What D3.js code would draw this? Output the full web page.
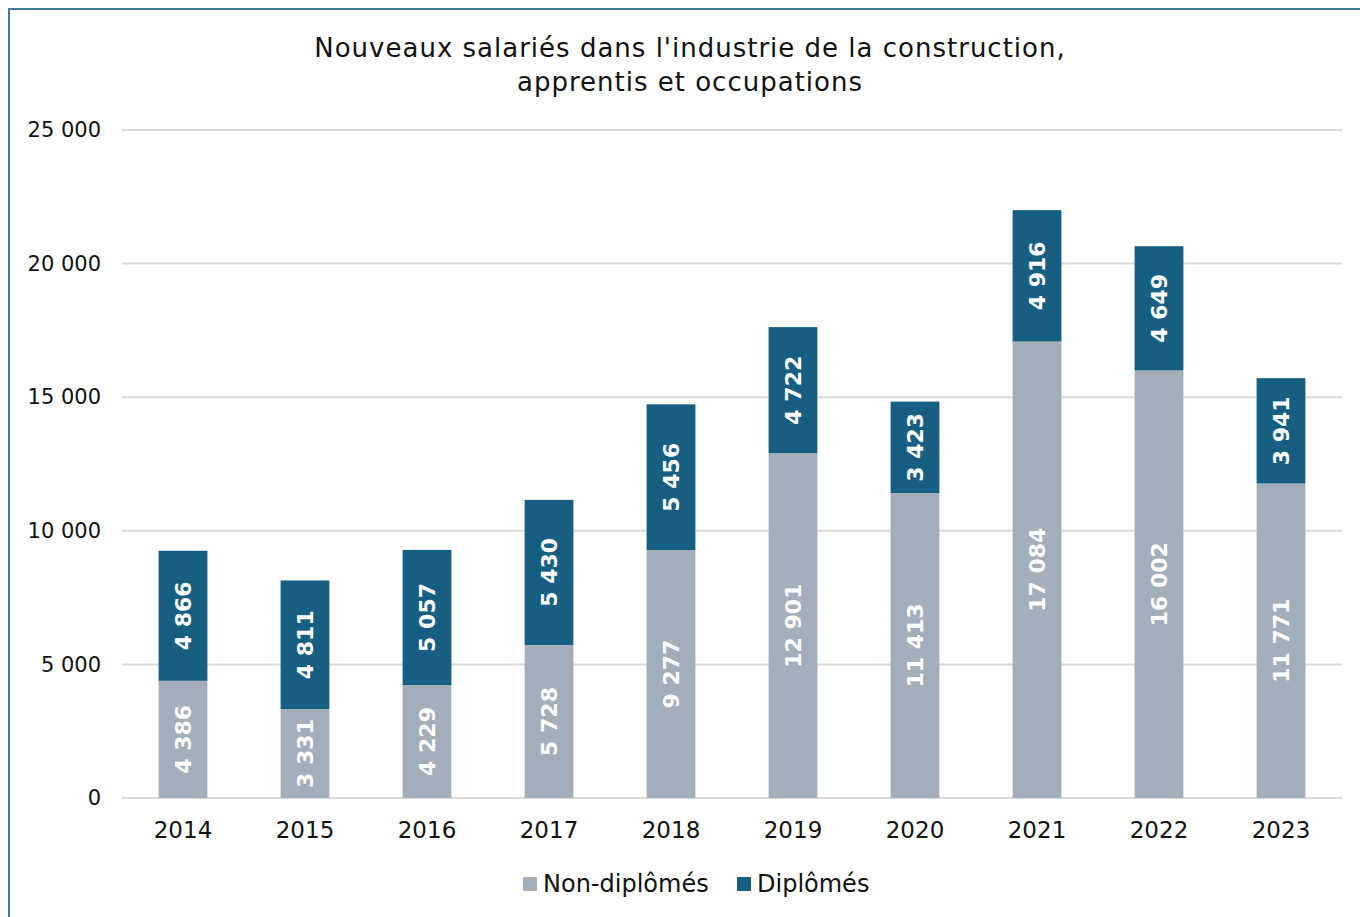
<!DOCTYPE html>
<html>
<head>
<meta charset="utf-8">
<script src="https://cdn.jsdelivr.net/npm/d3@7"></script>
<style>
  body { margin: 0; background: #fff; }
  text { font-family: "DejaVu Sans", Verdana, sans-serif; }
</style>
</head>
<body>
<div id="chart"></div>
<script>
// Data
var years = ["2014", "2015", "2016", "2017", "2018", "2019", "2020", "2021", "2022", "2023"];
var nonDiplomes = [4386, 3331, 4229, 5728, 9277, 12901, 11413, 17084, 16002, 11771];
var diplomes = [4866, 4811, 5057, 5430, 5456, 4722, 3423, 4916, 4649, 3941];
var yTicks = [0, 5000, 10000, 15000, 20000, 25000];
var seriesNames = ["Non-diplômés", "Diplômés"];
var seriesColors = ["#a2aeb9", "#175f82"];
var titleLines = ["Nouveaux salariés dans l'industrie de la construction,", "apprentis et occupations"];

var W = 1360, H = 917;
var margin = {top: 130, right: 18, bottom: 119, left: 122};
var width = W - margin.left - margin.right,
    height = H - margin.top - margin.bottom;

// French number format: space as thousands separator
var fmt = d3.formatLocale({decimal: ",", thousands: "\u00a0", grouping: [3], currency: ["", " €"]}).format(",d");

var svg = d3.select("#chart").append("svg")
    .attr("width", W)
    .attr("height", H);

// outer frame
svg.append("rect")
    .attr("x", 9).attr("y", 9)
    .attr("width", W + 10).attr("height", H + 10)
    .attr("fill", "none")
    .attr("stroke", "#3f7c9c")
    .attr("stroke-width", 2);

// title
svg.append("text")
    .attr("x", 690).attr("y", 57)
    .attr("text-anchor", "middle")
    .style("font-size", "26px")
    .style("letter-spacing", "1px")
    .attr("fill", "#111")
    .selectAll("tspan")
    .data(titleLines)
    .enter().append("tspan")
        .attr("x", 690)
        .attr("dy", function(d, i) { return i ? 34 : 0; })
        .text(function(d) { return d; });

var g = svg.append("g")
    .attr("transform", "translate(" + margin.left + "," + margin.top + ")");

var x = d3.scaleBand()
    .domain(years)
    .range([0, width])
    .paddingInner(0.6)
    .paddingOuter(0.3);

var y = d3.scaleLinear()
    .domain([0, 25000])
    .range([height, 0]);

// gridlines
g.append("g")
    .selectAll("line")
    .data(yTicks)
    .enter().append("line")
        .attr("x1", 0).attr("x2", width)
        .attr("y1", function(d) { return y(d); })
        .attr("y2", function(d) { return y(d); })
        .attr("stroke", "#d9d9d9")
        .attr("stroke-width", 2);

// Y axis labels
var yAxis = g.append("g")
    .call(d3.axisLeft(y).tickValues(yTicks).tickSize(0).tickPadding(21).tickFormat(fmt));
yAxis.select(".domain").remove();
yAxis.selectAll("text")
    .style("font-size", "21px")
    .style("font-family", "'DejaVu Sans', Verdana, sans-serif")
    .attr("fill", "#111");

// X axis labels
var xAxis = g.append("g")
    .attr("transform", "translate(0," + height + ")")
    .call(d3.axisBottom(x).tickSize(0).tickPadding(24));
xAxis.select(".domain").remove();
xAxis.selectAll("text")
    .style("font-size", "23px")
    .style("font-family", "'DejaVu Sans', Verdana, sans-serif")
    .attr("fill", "#111");

// Stack the data
var rows = years.map(function(yr, i) {
    return {year: yr, a: nonDiplomes[i], b: diplomes[i]};
});
var stacked = d3.stack().keys(["a", "b"])(rows);

var layers = g.selectAll(".layer")
    .data(stacked)
    .enter().append("g")
        .attr("class", "layer")
        .attr("fill", function(d, i) { return seriesColors[i]; });

layers.selectAll("rect")
    .data(function(d) { return d; })
    .enter().append("rect")
        .attr("x", function(d) { return x(d.data.year); })
        .attr("y", function(d) { return y(d[1]); })
        .attr("width", x.bandwidth())
        .attr("height", function(d) { return y(d[0]) - y(d[1]); });

// value labels, rotated inside each segment
layers.selectAll("text")
    .data(function(d) { return d; })
    .enter().append("text")
        .attr("transform", function(d) {
            var cx = x(d.data.year) + x.bandwidth() / 2;
            var cy = (y(d[0]) + y(d[1])) / 2;
            return "translate(" + cx + "," + cy + ") rotate(-90)";
        })
        .attr("text-anchor", "middle")
        .attr("dy", "0.36em")
        .attr("fill", "#fff")
        .style("font-size", "22px")
        .style("font-weight", "bold")
        .text(function(d) { return fmt(d[1] - d[0]); });

// legend
var legend = svg.append("g")
    .attr("transform", "translate(523,884)");
var legendX = [0, 214];
seriesNames.forEach(function(name, i) {
    var item = legend.append("g").attr("transform", "translate(" + legendX[i] + ",0)");
    item.append("rect")
        .attr("x", 0).attr("y", -7)
        .attr("width", 14).attr("height", 14)
        .attr("fill", seriesColors[i]);
    item.append("text")
        .attr("x", 20).attr("y", 0)
        .attr("dy", "0.35em")
        .style("font-size", "24px")
        .attr("fill", "#111")
        .text(name);
});
</script>
</body>
</html>
